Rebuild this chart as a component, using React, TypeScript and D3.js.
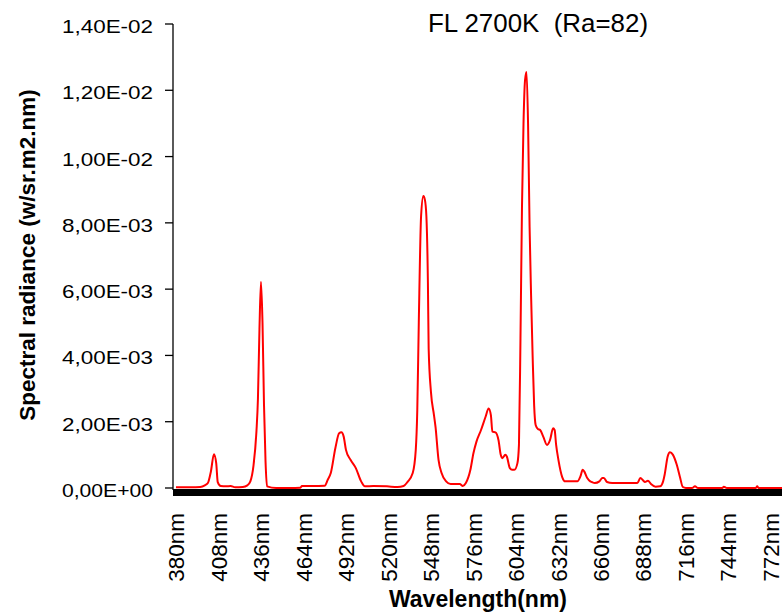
import React from "react";
import * as d3 from "d3";

// Spectral power distribution of a 2700K fluorescent lamp (W/sr·m²·nm)
const wavelengths: number[] = [
  380, 390, 396, 399, 401, 403, 405, 406.5, 407.5, 409.5, 413, 416, 419, 424, 427, 429, 431, 433, 434, 435,
  436, 437, 438, 439, 440, 446, 455, 462, 463, 470, 478, 480, 482, 485, 487.5, 489, 490.5, 492, 495, 498.5,
  502, 504.5, 510, 519, 526, 530, 532.5, 536, 538, 539, 540, 541.5, 543, 544, 545, 546, 546.5, 548, 550, 551,
  553, 555, 558, 561, 567, 569, 571, 574, 576, 578, 581, 584, 586, 587.5, 588.5, 590.5, 592.5, 594, 595, 597,
  598, 600, 601.5, 603, 605, 606, 607, 608, 609, 610, 611, 612, 613, 614, 615, 616, 617, 618.5, 620, 622,
  624.5, 626.5, 628.5, 629.5, 630.5, 632, 634.5, 636.5, 644.5, 646.5, 648, 649, 651, 653, 654, 656, 659, 661,
  662, 664, 667.5, 684, 686, 688, 689, 691, 693, 696, 699, 701, 702, 704, 705.5, 707.5, 710, 712, 714, 716,
  720, 722, 724, 740, 741, 743, 762, 763, 764, 780,
];

const radianceMilli: number[] = [
  0.02, 0.02, 0.03, 0.08, 0.15, 0.5, 1.02, 0.75, 0.18, 0.06, 0.05, 0.06, 0.02, 0.03, 0.08, 0.2, 0.65, 1.7, 2.7, 4.8,
  6.22, 5.0, 2.5, 0.8, 0.05, 0.0, 0.0, 0.01, 0.06, 0.06, 0.07, 0.25, 0.45, 1.2, 1.65, 1.68, 1.55, 1.15, 0.85, 0.6,
  0.2, 0.05, 0.06, 0.05, 0.03, 0.06, 0.18, 0.45, 1.15, 2.35, 5.0, 8.2, 8.81, 8.7, 8.2, 6.2, 4.2, 2.9, 2.2, 1.85,
  0.85, 0.45, 0.2, 0.12, 0.12, 0.06, 0.15, 0.55, 1.05, 1.4, 1.75, 2.15, 2.4, 2.2, 1.7, 1.68, 1.45, 1.0, 0.9, 1.0,
  0.95, 0.6, 0.55, 0.55, 0.75, 1.3, 4.5, 8.5, 11.0, 12.3, 12.55, 11.0, 7.9, 5.8, 4.0, 2.5, 1.9, 1.78, 1.75, 1.55,
  1.3, 1.45, 1.8, 1.75, 1.3, 0.85, 0.33, 0.2, 0.2, 0.35, 0.55, 0.5, 0.3, 0.2, 0.18, 0.15, 0.2, 0.3,
  0.3, 0.18, 0.15, 0.15, 0.3, 0.22, 0.18, 0.22, 0.12, 0.04, 0.05, 0.2, 0.4, 0.95, 1.08, 1.0, 0.7, 0.35, 0.03, 0.0,
  0.0, 0.05, 0.0, 0.0, 0.04, 0.0, 0.0, 0.05, 0.0, 0.0,
];

const radiance: number[] = radianceMilli.map((v) => v * 1e-3);

const yTicks: number[] = [0, 0.002, 0.004, 0.006, 0.008, 0.01, 0.012, 0.014];
const xTicks: number[] = [380, 408, 436, 464, 492, 520, 548, 576, 604, 632, 660, 688, 716, 744, 772];

const chartTitle = "FL 2700K  (Ra=82)";
const yTitle = "Spectral radiance (w/sr.m2.nm)";
const xTitle = "Wavelength(nm)";

const WIDTH = 782;
const HEIGHT = 613;
const FONT = "'Liberation Sans', Arial, Helvetica, sans-serif";

// Scientific notation with a decimal comma, e.g. 1,40E-02
function sciLabel(v: number): string {
  if (v === 0) return "0,00E+00";
  const exp = Math.floor(Math.log10(Math.abs(v)) + 1e-9);
  const mant = v / Math.pow(10, exp);
  const sign = exp < 0 ? "-" : "+";
  const e = String(Math.abs(exp)).padStart(2, "0");
  return `${mant.toFixed(2).replace(".", ",")}E${sign}${e}`;
}

export default function App() {
  const axisX = 173;
  const x = d3.scaleLinear().domain([380, 780]).range([176, 783]);
  const y = d3.scaleLinear().domain([0, 0.014]).range([488, 24]);

  const points: [number, number][] = wavelengths.map((w, i) => [w, radiance[i]]);
  const line = d3
    .line<[number, number]>()
    .x((d) => x(d[0]))
    .y((d) => y(d[1]))
    .curve(d3.curveMonotoneX);

  return (
    <svg
      width={WIDTH}
      height={HEIGHT}
      style={{ position: "absolute", left: 0, top: 0, background: "#fff" }}
      fontFamily={FONT}
    >
      <rect x={0} y={0} width={WIDTH} height={HEIGHT} fill="#fff" />

      {/* title */}
      <text
        x={538}
        y={32}
        fontSize={25}
        textAnchor="middle"
        fill="#000"
        textLength={220}
        lengthAdjust="spacingAndGlyphs"
        style={{ whiteSpace: "pre" }}
      >
        {chartTitle}
      </text>

      {/* y axis */}
      <line x1={axisX} x2={axisX} y1={y(0.014)} y2={y(0) + 2} stroke="#000" strokeWidth={1.3} />
      {yTicks.map((t) => (
        <g key={t}>
          <line x1={axisX - 8} x2={axisX} y1={y(t)} y2={y(t)} stroke="#000" strokeWidth={1.3} />
          <text
            x={153}
            y={y(t) + 9}
            fontSize={19}
            textAnchor="end"
            fill="#000"
            textLength={91}
            lengthAdjust="spacingAndGlyphs"
          >
            {sciLabel(t)}
          </text>
        </g>
      ))}

      {/* x axis */}
      <line x1={axisX} x2={WIDTH} y1={492.5} y2={492.5} stroke="#000" strokeWidth={7} />
      {xTicks.map((t) => (
        <text
          key={t}
          transform={`translate(${x(t)},513) rotate(-90)`}
          fontSize={22.5}
          textAnchor="end"
          dy="0.36em"
          fill="#000"
        >
          {`${t}nm`}
        </text>
      ))}

      {/* spectrum */}
      <path d={line(points) ?? ""} fill="none" stroke="#ff0000" strokeWidth={2} strokeLinejoin="round" />

      {/* axis titles */}
      <text
        transform={`translate(35,255) rotate(-90)`}
        fontSize={22.5}
        fontWeight="bold"
        textAnchor="middle"
        fill="#000"
      >
        {yTitle}
      </text>
      <text x={478} y={607} fontSize={23} fontWeight="bold" textAnchor="middle" fill="#000">
        {xTitle}
      </text>
    </svg>
  );
}
